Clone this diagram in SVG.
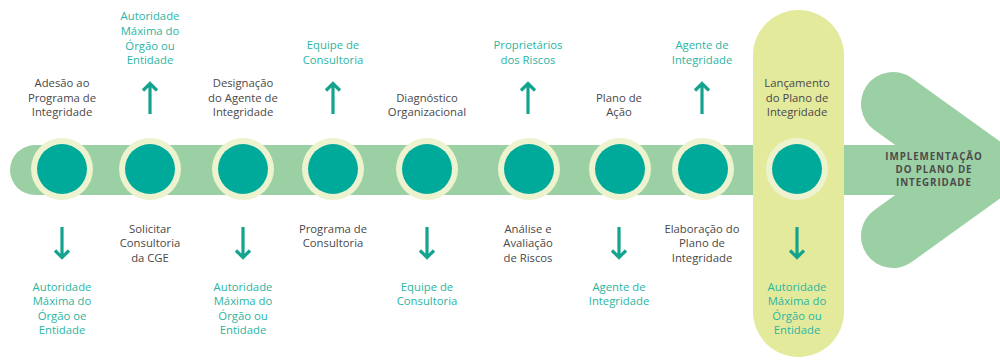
<svg xmlns="http://www.w3.org/2000/svg" width="1000" height="360" viewBox="0 0 1000 360">
<style>
.band{fill:#9bd0a4}
.chev{fill:none;stroke:#9bd0a4;stroke-width:64;stroke-linecap:round;stroke-linejoin:miter}
.pill{fill:#e3ea9c}
.ring{fill:#eef3cf}
.dot{fill:#00aa9b}
.arr{fill:none;stroke:#14a38f;stroke-width:3.2;stroke-linecap:butt;stroke-linejoin:miter}
text{font-family:"Open Sans","Liberation Sans",sans-serif;font-size:11.3px;text-anchor:middle}
.dk{fill:#4a4849;font-weight:500}
.tl{fill:#2cb4a2}
.cap{fill:#4d4b4c;font-weight:700;font-size:9.8px;letter-spacing:0.9px}
</style>
<g id="background">
<rect class="band" x="10" y="145" width="990" height="50" rx="25"/>
<polyline class="chev" points="893,104 985,170 893,236"/>
<rect class="pill" x="753" y="10" width="91" height="347" rx="45.5"/>
</g>
<g id="n1"><circle class="ring" cx="62" cy="169" r="31"/><circle class="dot" cx="62" cy="169" r="25"/>
<text class="dk" x="62" y="87">Adesão ao</text><text class="dk" x="62" y="102">Programa de</text><text class="dk" x="62" y="116">Integridade</text>
<text class="tl" x="62" y="291">Autoridade</text><text class="tl" x="62" y="305">Máxima do</text><text class="tl" x="62" y="320">Órgão oe</text><text class="tl" x="62" y="334">Entidade</text></g>
<g id="n2"><circle class="ring" cx="150" cy="169" r="31"/><circle class="dot" cx="150" cy="169" r="25"/>
<text class="tl" x="150" y="20">Autoridade</text><text class="tl" x="150" y="35">Máxima do</text><text class="tl" x="150" y="50">Órgão ou</text><text class="tl" x="150" y="64">Entidade</text>
<text class="dk" x="150" y="233">Solicitar</text><text class="dk" x="150" y="247">Consultoria</text><text class="dk" x="150" y="262">da CGE</text></g>
<g id="n3"><circle class="ring" cx="243" cy="169" r="31"/><circle class="dot" cx="243" cy="169" r="25"/>
<text class="dk" x="243" y="87">Designação</text><text class="dk" x="243" y="102">do Agente de</text><text class="dk" x="243" y="116">Integridade</text>
<text class="tl" x="243" y="291">Autoridade</text><text class="tl" x="243" y="305">Máxima do</text><text class="tl" x="243" y="320">Órgão ou</text><text class="tl" x="243" y="334">Entidade</text></g>
<g id="n4"><circle class="ring" cx="333" cy="169" r="31"/><circle class="dot" cx="333" cy="169" r="25"/>
<text class="tl" x="333" y="49">Equipe de</text><text class="tl" x="333" y="64">Consultoria</text>
<text class="dk" x="333" y="233">Programa de</text><text class="dk" x="333" y="247">Consultoria</text></g>
<g id="n5"><circle class="ring" cx="427" cy="169" r="31"/><circle class="dot" cx="427" cy="169" r="25"/>
<text class="dk" x="427" y="102">Diagnóstico</text><text class="dk" x="427" y="116">Organizacional</text>
<text class="tl" x="427" y="291">Equipe de</text><text class="tl" x="427" y="305">Consultoria</text></g>
<g id="n6"><circle class="ring" cx="529" cy="169" r="31"/><circle class="dot" cx="529" cy="169" r="25"/>
<text class="tl" x="528" y="49">Proprietários</text><text class="tl" x="528" y="64">dos Riscos</text>
<text class="dk" x="528" y="233">Análise e</text><text class="dk" x="528" y="247">Avaliação</text><text class="dk" x="528" y="262">de Riscos</text></g>
<g id="n7"><circle class="ring" cx="620" cy="169" r="31"/><circle class="dot" cx="620" cy="169" r="25"/>
<text class="dk" x="619" y="102">Plano de</text><text class="dk" x="619" y="116">Ação</text>
<text class="tl" x="619" y="291">Agente de</text><text class="tl" x="619" y="305">Integridade</text></g>
<g id="n8"><circle class="ring" cx="703" cy="169" r="31"/><circle class="dot" cx="703" cy="169" r="25"/>
<text class="tl" x="702" y="49">Agente de</text><text class="tl" x="702" y="64">Integridade</text>
<text class="dk" x="702" y="233">Elaboração do</text><text class="dk" x="702" y="247">Plano de</text><text class="dk" x="702" y="262">Integridade</text></g>
<g id="n9"><circle class="ring" cx="797" cy="169" r="31"/><circle class="dot" cx="797" cy="169" r="25"/>
<text class="dk" x="797" y="87">Lançamento</text><text class="dk" x="797" y="102">do Plano de</text><text class="dk" x="797" y="116">Integridade</text>
<text class="tl" x="797" y="291">Autoridade</text><text class="tl" x="797" y="305">Máxima do</text><text class="tl" x="797" y="320">Órgão ou</text><text class="tl" x="797" y="334">Entidade</text></g>
<g id="n10">
<text class="cap" x="934" y="160">IMPLEMENTAÇÃO</text><text class="cap" x="934" y="173">DO PLANO DE</text><text class="cap" x="934" y="186">INTEGRIDADE</text></g>
<g id="connectors">
<path class="arr" d="M150,114V84M143,90.5L150,83.5L157,90.5"/>
<path class="arr" d="M333,114V84M326,90.5L333,83.5L340,90.5"/>
<path class="arr" d="M528,114V84M521,90.5L528,83.5L535,90.5"/>
<path class="arr" d="M702,114V84M695,90.5L702,83.5L709,90.5"/>
<path class="arr" d="M62,227V257M55,250.5L62,257.5L69,250.5"/>
<path class="arr" d="M243,227V257M236,250.5L243,257.5L250,250.5"/>
<path class="arr" d="M427,227V257M420,250.5L427,257.5L434,250.5"/>
<path class="arr" d="M619,227V257M612,250.5L619,257.5L626,250.5"/>
<path class="arr" d="M797,227V257M790,250.5L797,257.5L804,250.5"/>
</g>
</svg>
